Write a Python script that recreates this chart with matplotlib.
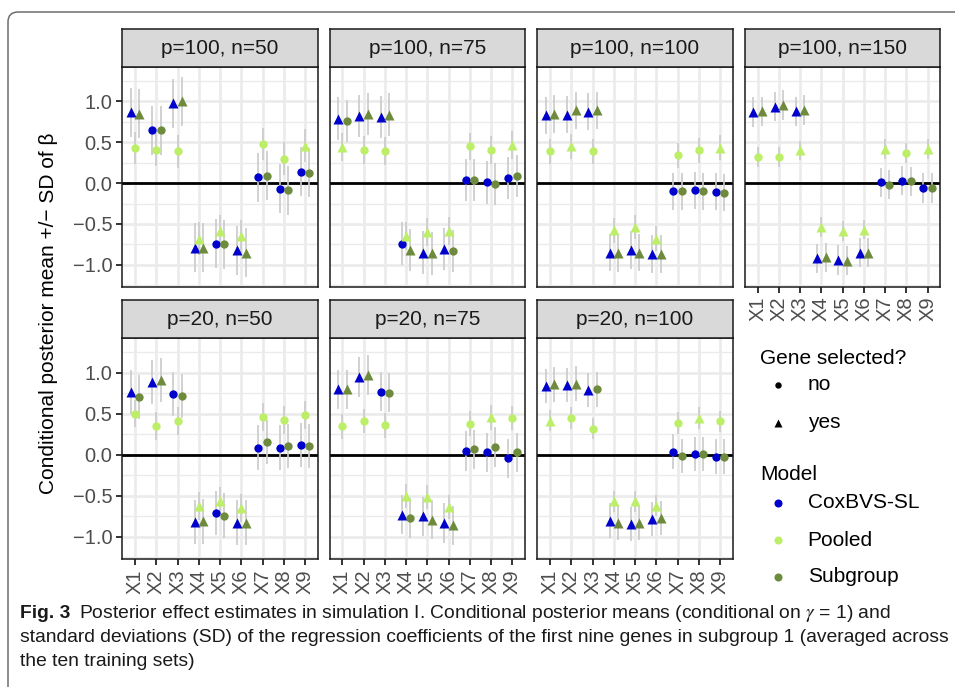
import numpy as np
import matplotlib
matplotlib.use("Agg")
import matplotlib.pyplot as plt
from matplotlib.path import Path
from matplotlib.patches import PathPatch
from matplotlib.lines import Line2D
from matplotlib.transforms import IdentityTransform

# ---------------------------------------------------------------- data
genes = ["X1", "X2", "X3", "X4", "X5", "X6", "X7", "X8", "X9"]
models = ["CoxBVS-SL", "Pooled", "Subgroup"]
model_colors = ["#0000CD", "#BCEE68", "#6E8B3D"]
panels = ["p=100, n=50", "p=100, n=75", "p=100, n=100", "p=100, n=150",
          "p=20, n=50", "p=20, n=75", "p=20, n=100"]

# conditional posterior means, one row per panel
mean_cox = [
    [0.87, 0.65, 0.98, -0.79, -0.74, -0.82, 0.07, -0.07, 0.14],
    [0.79, 0.82, 0.81, -0.74, -0.85, -0.81, 0.04, 0.01, 0.06],
    [0.83, 0.84, 0.875, -0.85, -0.82, -0.87, -0.10, -0.09, -0.105],
    [0.87, 0.935, 0.88, -0.92, -0.94, -0.85, 0.01, 0.03, -0.06],
    [0.77, 0.89, 0.74, -0.82, -0.71, -0.825, 0.09, 0.09, 0.12],
    [0.80, 0.95, 0.77, -0.73, -0.75, -0.83, 0.05, 0.03, -0.04],
    [0.84, 0.85, 0.79, -0.80, -0.84, -0.78, 0.04, 0.01, -0.02],
]
mean_pooled = [
    [0.43, 0.41, 0.39, -0.68, -0.585, -0.65, 0.48, 0.30, 0.46],
    [0.44, 0.41, 0.395, -0.645, -0.60, -0.59, 0.45, 0.41, 0.47],
    [0.39, 0.45, 0.39, -0.58, -0.54, -0.68, 0.34, 0.40, 0.435],
    [0.32, 0.32, 0.40, -0.535, -0.585, -0.57, 0.42, 0.37, 0.415],
    [0.505, 0.355, 0.41, -0.625, -0.565, -0.65, 0.465, 0.43, 0.485],
    [0.35, 0.415, 0.36, -0.50, -0.515, -0.635, 0.38, 0.46, 0.45],
    [0.42, 0.45, 0.32, -0.565, -0.565, -0.62, 0.39, 0.45, 0.41],
]
mean_sub = [
    [0.85, 0.65, 1.00, -0.79, -0.75, -0.85, 0.09, -0.085, 0.13],
    [0.76, 0.85, 0.84, -0.82, -0.86, -0.83, 0.04, -0.01, 0.09],
    [0.85, 0.89, 0.89, -0.86, -0.85, -0.87, -0.10, -0.10, -0.115],
    [0.88, 0.955, 0.895, -0.91, -0.95, -0.85, -0.02, 0.02, -0.06],
    [0.705, 0.91, 0.72, -0.81, -0.74, -0.825, 0.16, 0.11, 0.105],
    [0.80, 0.975, 0.76, -0.77, -0.79, -0.86, 0.07, 0.095, 0.03],
    [0.86, 0.87, 0.80, -0.83, -0.825, -0.77, -0.01, 0.01, -0.02],
]

# posterior standard deviations (per panel)
sd_cox = [0.30, 0.26, 0.23, 0.18, 0.27, 0.24, 0.21]
sd_pooled = [0.20, 0.17, 0.15, 0.12, 0.17, 0.15, 0.13]
sd_sub = [0.30, 0.26, 0.23, 0.18, 0.27, 0.24, 0.21]

# gene selected? (1 = yes)
sel_cox = [
    [1, 0, 1, 1, 0, 1, 0, 0, 0],
    [1, 1, 1, 0, 1, 1, 0, 0, 0],
    [1, 1, 1, 1, 1, 1, 0, 0, 0],
    [1, 1, 1, 1, 1, 1, 0, 0, 0],
    [1, 1, 0, 1, 0, 1, 0, 0, 0],
    [1, 1, 0, 1, 1, 1, 0, 0, 0],
    [1, 1, 1, 1, 1, 1, 0, 0, 0],
]
sel_pooled = [
    [0, 0, 0, 1, 1, 1, 0, 0, 1],
    [1, 0, 0, 1, 1, 1, 0, 0, 1],
    [0, 1, 0, 1, 1, 1, 0, 0, 1],
    [0, 0, 1, 1, 1, 1, 1, 0, 1],
    [0, 0, 0, 1, 1, 1, 0, 0, 0],
    [0, 0, 0, 1, 1, 1, 0, 1, 0],
    [1, 0, 0, 1, 1, 1, 0, 1, 0],
]
sel_sub = [
    [1, 0, 1, 1, 0, 1, 0, 0, 0],
    [0, 1, 1, 1, 1, 0, 0, 0, 0],
    [1, 1, 1, 1, 1, 1, 0, 0, 0],
    [1, 1, 1, 1, 1, 1, 0, 0, 0],
    [0, 1, 0, 1, 0, 1, 0, 0, 0],
    [1, 1, 0, 0, 1, 1, 0, 0, 0],
    [1, 1, 0, 1, 1, 1, 0, 0, 0],
]

means = [np.array(mean_cox), np.array(mean_pooled), np.array(mean_sub)]
sds = [np.array(sd_cox), np.array(sd_pooled), np.array(sd_sub)]
sels = [np.array(sel_cox), np.array(sel_pooled), np.array(sel_sub)]

# ---------------------------------------------------------------- style
plt.rcParams["font.family"] = ["Liberation Sans", "DejaVu Sans"]
plt.rcParams["mathtext.fontset"] = "stix"

W, H = 955, 687
fig = plt.figure(figsize=(W / 100, H / 100), dpi=100)
fig.patch.set_facecolor("white")

def fx(px):
    return px / W

def fy(py):
    return 1 - py / H

GRID = "#EBEBEB"
TICKCOL = "#4D4D4D"
BAR = "#CACACA"
dodge = [-0.2, 0.0, 0.2]
shape = {0: "o", 1: "^"}
msize = {0: 6.0, 1: 7.4}

# shared y-range (data range with 5 % padding)
lo = min((m - s[:, None]).min() for m, s in zip(means, sds))
hi = max((m + s[:, None]).max() for m, s in zip(means, sds))
pad = 0.05 * (hi - lo)
ylim = (lo - pad, hi + pad)

lefts = [122.3, 329.7, 537.3, 744.8]
pw = 195.5
rows = [(29.0, 67.0, 287.0), (299.7, 338.3, 559.3)]
x = np.arange(1, 10)

for k, title in enumerate(panels):
    r, c = (0, k) if k < 4 else (1, k - 4)
    s_top, p_top, p_bot = rows[r]
    left = lefts[c]
    ax = fig.add_axes([fx(left), fy(p_bot), pw / W, (p_bot - p_top) / H])
    sax = fig.add_axes([fx(left), fy(p_top), pw / W, (p_top - s_top) / H])

    # strip
    sax.set_facecolor("#D9D9D9")
    sax.set_xticks([]); sax.set_yticks([])
    for sp in sax.spines.values():
        sp.set_color("#1A1A1A"); sp.set_linewidth(1.1)
    sax.text(0.5, 0.48, title, ha="center", va="center", fontsize=15,
             color="#1A1A1A", transform=sax.transAxes)

    # panel
    ax.set_xlim(0.4, 9.6)
    ax.set_ylim(*ylim)
    ax.set_xticks(x)
    ax.set_yticks([-1.0, -0.5, 0.0, 0.5, 1.0])
    ax.set_yticks([-1.25, -0.75, -0.25, 0.25, 0.75, 1.25], minor=True)
    ax.grid(True, which="major", color=GRID, lw=1.9, zorder=0)
    ax.grid(True, which="minor", axis="y", color=GRID, lw=1.0, zorder=0)
    ax.set_axisbelow(True)
    for sp in ax.spines.values():
        sp.set_color("#1A1A1A"); sp.set_linewidth(1.1); sp.set_zorder(5)
    ax.tick_params(which="minor", length=0)
    ax.tick_params(which="major", length=4.5, width=1.4, color="#333333",
                   labelcolor=TICKCOL, labelsize=14.5, pad=2.5)

    if c == 0:
        ax.set_yticklabels(["\u22121.0", "\u22120.5", "0.0", "0.5", "1.0"])
    else:
        ax.tick_params(axis="y", length=0, labelleft=False)
    if r == 1 or k == 3:
        ax.set_xticklabels(genes, rotation=90, va="top", ha="center")
    else:
        ax.tick_params(axis="x", length=0, labelbottom=False)

    ax.axhline(0, color="black", lw=2.0, zorder=2)

    # error bars
    for m in range(3):
        xs = x + dodge[m]
        mu = means[m][k]
        sd = sds[m][k]
        ax.vlines(xs, mu - sd, mu + sd, color=BAR, lw=1.2, zorder=3)
    # points
    for m in range(3):
        xs = x + dodge[m]
        mu = means[m][k]
        for sv in (0, 1):
            msk = sels[m][k] == sv
            ax.plot(xs[msk], mu[msk], ls="none", marker=shape[sv],
                    ms=msize[sv], color=model_colors[m], mec="none", zorder=4)

# y axis title
fig.text(fx(48), fy(313), "Conditional posterior mean +/\u2212 SD of \u03b2",
         rotation=90, ha="center", va="center", fontsize=15, color="black")

# legend
fig.text(fx(760), fy(358), "Gene selected?", ha="left", va="center", fontsize=15)
fig.text(fx(760), fy(475), "Model", ha="left", va="center", fontsize=15)
leg_shape = [("no", 0, 385), ("yes", 1, 423)]
for lab, sv, yy in leg_shape:
    fig.add_artist(Line2D([fx(777.7)], [fy(yy)], ls="none", marker=shape[sv],
                          ms=4.6 if sv == 0 else 5.6, color="black", mec="none",
                          transform=fig.transFigure))
    fig.text(fx(807.7), fy(yy), lab, ha="left", va="center", fontsize=15)
for m, yy in zip(range(3), [503, 540, 577]):
    fig.add_artist(Line2D([fx(777.7)], [fy(yy)], ls="none", marker="o",
                          ms=5.8, color=model_colors[m], mec="none",
                          transform=fig.transFigure))
    fig.text(fx(807.7), fy(yy), models[m], ha="left", va="center", fontsize=15)

# caption
cap_font = ["Liberation Sans", "DejaVu Sans"]
cap_size = 13.9
fig.canvas.draw()
renderer = fig.canvas.get_renderer()
t = fig.text(fx(20), fy(614), "Fig. 3", ha="left", va="center",
             fontsize=cap_size, weight="bold", family=cap_font, color="#1A1A1A")
bb = t.get_window_extent(renderer)
fig.text((bb.x1 + 9) / W, fy(614),
         "Posterior effect estimates in simulation I. Conditional posterior means "
         "(conditional on $\\gamma$ = 1) and",
         ha="left", va="center", fontsize=cap_size, family=cap_font, color="#1A1A1A")
fig.text(fx(20), fy(638),
         "standard deviations (SD) of the regression coefficients of the first nine "
         "genes in subgroup 1 (averaged across",
         ha="left", va="center", fontsize=cap_size, family=cap_font, color="#1A1A1A")
fig.text(fx(20), fy(661), "the ten training sets)",
         ha="left", va="center", fontsize=cap_size, family=cap_font, color="#1A1A1A")

# rounded frame (top and left edges)
verts = [(8, 0), (8, H - 22), (8, H - 12), (18, H - 12), (W + 5, H - 12)]
codes = [Path.MOVETO, Path.LINETO, Path.CURVE3, Path.CURVE3, Path.LINETO]
fig.add_artist(PathPatch(Path(verts, codes), fill=False, edgecolor="#6E6E6E",
                         lw=1.1, transform=IdentityTransform()))

fig.savefig("out.png", dpi=100)
